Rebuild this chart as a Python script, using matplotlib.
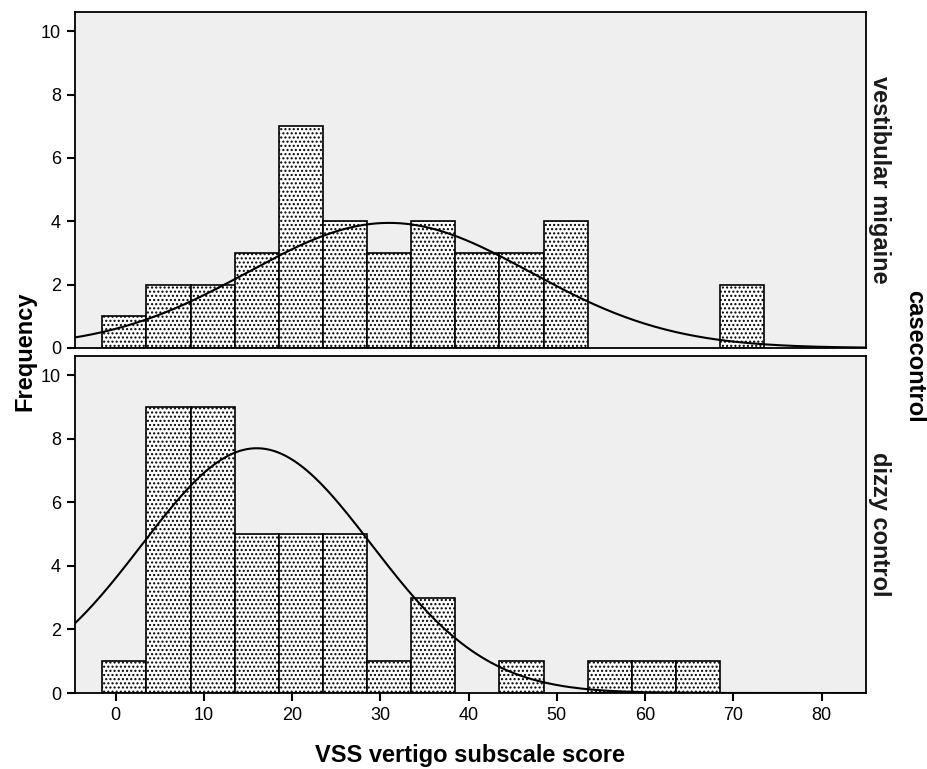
import numpy as np
import matplotlib.pyplot as plt

plt.rcParams['font.family'] = ['Liberation Sans', 'DejaVu Sans']
plt.rcParams['hatch.color'] = '#2a2a2a'
plt.rcParams['hatch.linewidth'] = 1.0

# 组距为5的直方图, 左边界
bin_left = [-1.5, 3.5, 8.5, 13.5, 18.5, 23.5, 28.5, 33.5, 38.5, 43.5, 48.5, 53.5, 58.5, 63.5, 68.5]
bin_width = 5

groups = ['vestibular migaine', 'dizzy control']
counts_vm = [1, 2, 2, 3, 7, 4, 3, 4, 3, 3, 4, 0, 0, 0, 2]
counts_dc = [1, 9, 9, 5, 5, 5, 1, 3, 0, 1, 0, 1, 1, 1, 0]

# 正态曲线参数: 均值, 标准差, 峰值
curve_mean = [31, 16]
curve_sd = [16, 13]
curve_peak = [3.95, 7.7]

x_ticks = [0, 10, 20, 30, 40, 50, 60, 70, 80]
y_ticks = [0, 2, 4, 6, 8, 10]


def draw_panel(ax, counts, mu, sd, peak, label):
    ax.set_facecolor('#efefef')
    for left, c in zip(bin_left, counts):
        if c == 0:
            continue
        ax.bar(left, c, width=bin_width, align='edge', facecolor='white',
               edgecolor='black', linewidth=1.2, hatch='....', zorder=2)
    xs = np.linspace(-6, 86, 400)
    ax.plot(xs, peak * np.exp(-(xs - mu) ** 2 / (2 * sd ** 2)), color='black', lw=1.5, zorder=3)
    ax.set_xlim(-4.6, 85)
    ax.set_ylim(0, 10.6)
    ax.set_yticks(y_ticks)
    ax.set_xticks(x_ticks)
    ax.tick_params(direction='out', length=6, width=1.5, labelsize=13, pad=4)
    for s in ax.spines.values():
        s.set_linewidth(1.3)
    ax.text(1.018, 0.5, label, transform=ax.transAxes, rotation=-90, fontsize=17,
            fontweight='bold', ha='center', va='center', color='#1a1a1a')


fig = plt.figure(figsize=(9.28, 7.69), dpi=100)
ax1 = fig.add_axes([0.0808, 0.5475, 0.852, 0.4365])
ax2 = fig.add_axes([0.0808, 0.0988, 0.852, 0.4382])

draw_panel(ax1, counts_vm, curve_mean[0], curve_sd[0], curve_peak[0], groups[0])
draw_panel(ax2, counts_dc, curve_mean[1], curve_sd[1], curve_peak[1], groups[1])
ax1.tick_params(axis='x', length=0, labelbottom=False)

fig.text(0.027, 0.543, 'Frequency', rotation=90, fontsize=17, fontweight='bold',
         ha='center', va='center')
fig.text(0.986, 0.537, 'casecontrol', rotation=-90, fontsize=17, fontweight='bold',
         ha='center', va='center')
fig.text(0.507, 0.018, 'VSS vertigo subscale score', fontsize=17, fontweight='bold',
         ha='center', va='center')

fig.savefig('out.png', dpi=100)
